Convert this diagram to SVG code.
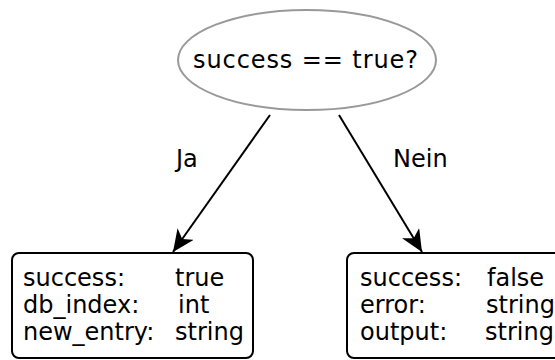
<svg xmlns="http://www.w3.org/2000/svg" width="555" height="360" viewBox="0 0 555 360">
  <style>
    text { font-family: "DejaVu Sans", sans-serif; font-size: 24px; fill: #000; }
    .dec { fill: #fff; stroke: #999; stroke-width: 2; }
    .box { fill: #fff; stroke: #000; stroke-width: 2; }
    .edge { fill: none; stroke: #000; stroke-width: 2; }
  </style>
  <defs>
    <!-- concave arrowhead, tip at the end of the path -->
    <marker id="arrow" viewBox="0 0 22 20" refX="22" refY="10" markerWidth="22" markerHeight="20" markerUnits="userSpaceOnUse" orient="auto">
      <path d="M0,0 L22,10 L0,20 L6,10 Z" fill="#000"/>
    </marker>
  </defs>
  <rect width="555" height="360" fill="#fff"/>
  <g id="edges">
    <path class="edge" d="M270,115 L173,252" marker-end="url(#arrow)"/>
    <path class="edge" d="M339,115 L422,252" marker-end="url(#arrow)"/>
    <text x="176" y="167">Ja</text>
    <text x="393" y="167">Nein</text>
  </g>
  <g id="decision">
    <ellipse class="dec" cx="307" cy="60" rx="129" ry="50"/>
    <text x="193" y="68" textLength="225" lengthAdjust="spacing">success == true?</text>
  </g>
  <g id="success">
    <rect class="box" x="12" y="253" width="241" height="105" rx="7"/>
    <text x="23" y="286">success:</text><text x="175" y="286">true</text>
    <text x="23" y="313">db_index:</text><text x="178" y="313">int</text>
    <text x="23" y="340">new_entry:</text><text x="175" y="340">string</text>
  </g>
  <g id="failure">
    <rect class="box" x="347" y="253" width="220" height="105" rx="7"/>
    <text x="360" y="286">success:</text><text x="487" y="286">false</text>
    <text x="360" y="313">error:</text><text x="486" y="313">string</text>
    <text x="360" y="340">output:</text><text x="485" y="340">string</text>
  </g>
</svg>
